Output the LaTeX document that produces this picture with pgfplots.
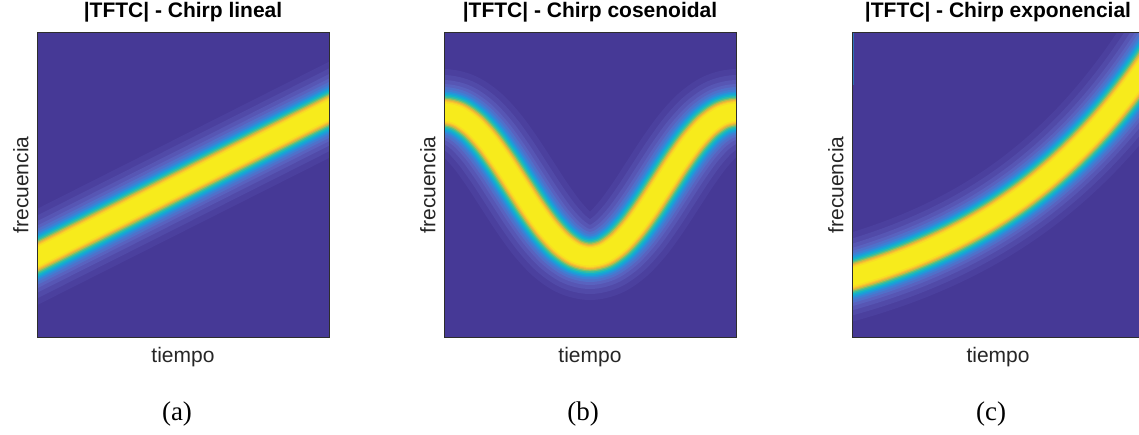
\documentclass[border=0pt]{standalone}
\usepackage{fontspec}
\setmainfont{Liberation Sans}
\newfontfamily\capfont{Liberation Serif}
\usepackage{pgfplots}
\usepackage{pgfplotstable}
\pgfplotsset{compat=1.18}

% parula-like shades, from the floor of the spectrogram up to its peak
\definecolor{bgblue}{RGB}{70,57,150}
\definecolor{La}{RGB}{75,64,158}
\definecolor{Lb}{RGB}{81,74,168}
\definecolor{Lc}{RGB}{87,86,180}
\definecolor{Ld}{RGB}{89,98,191}
\definecolor{Le}{RGB}{80,112,202}
\definecolor{Lf}{RGB}{64,126,211}
\definecolor{Lg}{RGB}{42,144,218}
\definecolor{Lh}{RGB}{24,163,214}
\definecolor{Li}{RGB}{20,181,199}
\definecolor{Lj}{RGB}{52,189,163}
\definecolor{Lk}{RGB}{115,192,112}
\definecolor{Ll}{RGB}{192,188,72}
\definecolor{Lm}{RGB}{240,182,55}
\definecolor{Ln}{RGB}{248,202,45}
\definecolor{Lo}{RGB}{248,222,35}
\definecolor{Lp}{RGB}{247,235,28}
\definecolor{framegray}{RGB}{45,45,45}
\definecolor{labelgray}{RGB}{38,38,38}

% instantaneous frequency (normalised) against normalised time
\pgfplotstableread{
t f
-0.1 0.2146
1.1 0.7954
}\lineal

\pgfplotstableread{
t f
-0.10 0.6944
-0.05 0.7283
0.00 0.7400
0.05 0.7283
0.10 0.6944
0.15 0.6417
0.20 0.5752
0.25 0.5015
0.30 0.4278
0.35 0.3613
0.40 0.3086
0.45 0.2747
0.50 0.2630
0.55 0.2747
0.60 0.3086
0.65 0.3613
0.70 0.4278
0.75 0.5015
0.80 0.5752
0.85 0.6417
0.90 0.6944
0.95 0.7283
1.00 0.7400
1.05 0.7283
1.10 0.6944
}\cosenoidal

\pgfplotstableread{
t f
-0.10 0.1714
-0.05 0.1837
0.00 0.1970
0.05 0.2114
0.10 0.2270
0.15 0.2439
0.20 0.2622
0.25 0.2821
0.30 0.3036
0.35 0.3269
0.40 0.3521
0.45 0.3794
0.50 0.4090
0.55 0.4411
0.60 0.4758
0.65 0.5135
0.70 0.5542
0.75 0.5984
0.80 0.6462
0.85 0.6980
0.90 0.7542
0.95 0.8150
1.00 0.8809
1.05 0.9522
1.10 1.0295
}\exponencial

% the ridge of |STFT|, drawn as nested strokes from the wide faint halo to the bright core
\newcommand{\ridge}[1]{%
  \addplot[smooth, draw=La, line width=86pt] table[x=t,y=f]{#1};
  \addplot[smooth, draw=Lb, line width=74pt] table[x=t,y=f]{#1};
  \addplot[smooth, draw=Lc, line width=64pt] table[x=t,y=f]{#1};
  \addplot[smooth, draw=Ld, line width=56pt] table[x=t,y=f]{#1};
  \addplot[smooth, draw=Le, line width=50pt] table[x=t,y=f]{#1};
  \addplot[smooth, draw=Lf, line width=45pt] table[x=t,y=f]{#1};
  \addplot[smooth, draw=Lg, line width=41pt] table[x=t,y=f]{#1};
  \addplot[smooth, draw=Lh, line width=38pt] table[x=t,y=f]{#1};
  \addplot[smooth, draw=Li, line width=35pt] table[x=t,y=f]{#1};
  \addplot[smooth, draw=Lj, line width=32pt] table[x=t,y=f]{#1};
  \addplot[smooth, draw=Lk, line width=29pt] table[x=t,y=f]{#1};
  \addplot[smooth, draw=Ll, line width=26.5pt] table[x=t,y=f]{#1};
  \addplot[smooth, draw=Lm, line width=24pt] table[x=t,y=f]{#1};
  \addplot[smooth, draw=Ln, line width=22pt] table[x=t,y=f]{#1};
  \addplot[smooth, draw=Lo, line width=20pt] table[x=t,y=f]{#1};
  \addplot[smooth, draw=Lp, line width=17pt] table[x=t,y=f]{#1};
}

\pgfplotsset{
  tftc/.style={
    scale only axis, width=292pt, height=304pt,
    xmin=0, xmax=1, ymin=0, ymax=1,
    xtick=\empty, ytick=\empty,
    axis on top,
    axis background/.style={fill=bgblue},
    axis line style={draw=framegray, line width=1pt},
    xlabel=tiempo, ylabel=frecuencia,
    xlabel style={at={(axis description cs:0.5,-0.033)}, anchor=north,
      inner sep=0pt, text=labelgray, font=\fontsize{21}{25}\selectfont},
    ylabel style={at={(axis description cs:-0.028,0.5)}, anchor=south,
      inner sep=0pt, text=labelgray, font=\fontsize{21}{25}\selectfont},
    title style={at={(axis description cs:0.5,1.03)}, anchor=base,
      inner sep=0pt, font=\bfseries\fontsize{21}{25}\selectfont},
    every axis plot/.append style={line cap=butt, line join=round, mark=none},
  }
}

\begin{document}
\begin{tikzpicture}
\useasboundingbox (0pt,0pt) rectangle (1139pt,434pt);

\begin{axis}[tftc, at={(37pt,97pt)}, anchor=south west,
  title={|TFTC| - Chirp lineal}]
  \ridge{\lineal}
\end{axis}

\begin{axis}[tftc, at={(444pt,97pt)}, anchor=south west,
  title={|TFTC| - Chirp cosenoidal}]
  \ridge{\cosenoidal}
\end{axis}

\begin{axis}[tftc, at={(852pt,97pt)}, anchor=south west,
  title={|TFTC| - Chirp exponencial}]
  \ridge{\exponencial}
  % leakage of the top frequencies into the first time frame
  \addplot[draw=Lh!55!bgblue, line width=2pt, line cap=butt]
    coordinates {(0.005,0.83) (0.005,1)};
\end{axis}

\node[anchor=base, font=\capfont\fontsize{27}{30}\selectfont] at (177pt,14pt) {(a)};
\node[anchor=base, font=\capfont\fontsize{27}{30}\selectfont] at (583pt,14pt) {(b)};
\node[anchor=base, font=\capfont\fontsize{27}{30}\selectfont] at (991pt,14pt) {(c)};
\end{tikzpicture}
\end{document}
